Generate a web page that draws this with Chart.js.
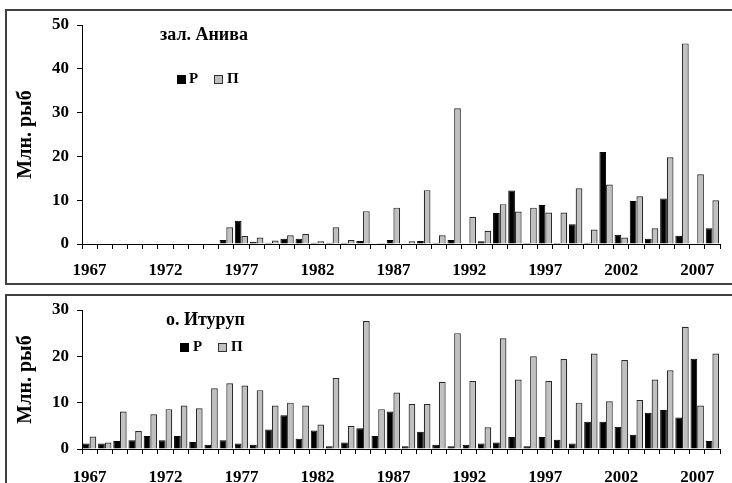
<!DOCTYPE html>
<html><head><meta charset="utf-8">
<script src="https://cdn.jsdelivr.net/npm/chart.js@4.4.0/dist/chart.umd.min.js"></script>
<style>
html,body{margin:0;padding:0;background:#fff;}
#wrap{position:relative;width:732px;height:483px;overflow:hidden;font-family:"Liberation Serif","Times New Roman",serif;font-weight:bold;color:#000;}
.box{position:absolute;border:2px solid #404040;box-sizing:border-box;}
canvas{position:absolute;left:0;}
.ttl{position:absolute;font-size:18px;line-height:18px;white-space:nowrap;}
.lt{position:absolute;font-size:15px;line-height:15px;white-space:nowrap;}
.sq{position:absolute;width:9px;height:9px;box-sizing:border-box;}
</style></head>
<body>
<div id="wrap">
  <div class="box" style="left:5px;top:9px;width:740px;height:276px;"></div>
  <div class="box" style="left:5px;top:294px;width:740px;height:200px;"></div>
  <canvas id="c1" width="732" height="290" style="top:0;"></canvas>
  <canvas id="c2" width="732" height="200" style="top:290px;"></canvas>
  <div class="ttl" style="left:160px;top:25px;">зал. Анива</div>
  <div class="sq" style="left:177px;top:75px;background:#000;"></div>
  <div class="lt" style="left:189px;top:71px;">Р</div>
  <div class="sq" style="left:214px;top:75px;background:#c0c0c0;border:1px solid #303030;"></div>
  <div class="lt" style="left:227px;top:71px;">П</div>
  <div class="ttl" style="left:166px;top:310px;">о. Итуруп</div>
  <div class="sq" style="left:180px;top:343px;background:#000;"></div>
  <div class="lt" style="left:193px;top:339px;">Р</div>
  <div class="sq" style="left:218px;top:343px;background:#c0c0c0;border:1px solid #303030;"></div>
  <div class="lt" style="left:231px;top:339px;">П</div>
</div>
<script>
const years = ['1967','1968','1969','1970','1971','1972','1973','1974','1975','1976',
  '1977','1978','1979','1980','1981','1982','1983','1984','1985','1986',
  '1987','1988','1989','1990','1991','1992','1993','1994','1995','1996',
  '1997','1998','1999','2000','2001','2002','2003','2004','2005','2006',
  '2007','2008'];
const xTickLabels = ['1967','1972','1977','1982','1987','1992','1997','2002','2007'];

// зал. Анива
const anivaR = [null,null,null,null,null,null,null,null,null,0.9,
  5.3,0.5,0.3,1.2,1.2,0.3,0.3,0.3,0.7,null,
  0.9,null,0.7,0.3,0.9,null,0.6,7.1,12.2,0.2,
  8.9,0.2,4.5,0.3,21.0,2.1,9.8,1.2,10.4,1.9,
  null,3.6];
const anivaP = [null,null,null,null,null,null,null,null,null,3.8,
  1.8,1.5,0.8,2.0,2.3,0.6,3.8,0.9,7.5,0.2,
  8.3,0.6,12.3,2.0,31.0,6.2,3.0,9.1,7.4,8.3,
  7.2,7.2,12.7,3.3,13.6,1.5,10.9,3.6,19.8,45.8,
  15.9,10.0];

// о. Итуруп
const iturupR = [1.2,1.2,1.7,1.9,2.8,1.9,2.8,1.5,0.9,1.9,
  1.2,0.9,4.2,7.3,2.2,4.0,0.6,1.4,4.5,2.8,
  8.1,0.6,3.7,0.9,0.6,0.9,1.2,1.4,2.6,0.6,
  2.6,2.0,1.2,5.9,5.9,4.8,3.1,7.8,8.4,6.8,
  19.5,1.7];
const iturupP = [2.7,1.4,8.1,3.9,7.5,8.6,9.4,8.8,13.1,14.2,
  13.7,12.7,9.4,10.0,9.4,5.3,15.3,5.0,27.6,8.6,
  12.2,9.7,9.7,14.5,25.0,14.7,4.7,23.9,15.0,20.0,
  14.7,19.4,10.0,20.6,10.3,19.2,10.6,15.0,17.0,26.4,
  9.4,20.6];

const FAM = '"Liberation Serif","Times New Roman",serif';

function makeChart(id, rData, pData, yMax, padTop, xH, xPad) {
  return new Chart(document.getElementById(id), {
    type: 'bar',
    data: {
      labels: years,
      datasets: [
        {label:'Р', data:rData, backgroundColor:'#000', borderColor:'#000', borderWidth:1,
         categoryPercentage:0.88, barPercentage:1},
        {label:'П', data:pData, backgroundColor:'#c0c0c0', borderColor:'#2a2a2a', borderWidth:1.2,
         categoryPercentage:0.88, barPercentage:1}
      ]
    },
    options: {
      responsive:false, animation:false, devicePixelRatio:1,
      layout:{padding:{top:padTop, right:12, left:0, bottom:0}},
      plugins:{legend:{display:false}, tooltip:{enabled:false}},
      scales:{
        x:{
          offset:true,
          grid:{offset:true, drawOnChartArea:false, drawTicks:true, tickLength:5, color:'#000', lineWidth:1},
          border:{display:true, color:'#000', width:1},
          ticks:{autoSkip:false, maxRotation:0, minRotation:0, padding:xPad, color:'#000',
            font:{family:FAM, size:17, weight:'bold'},
            callback:function(v){ const l = this.getLabelForValue(v); return xTickLabels.includes(l) ? l : ''; }},
          afterFit:(s)=>{ s.height = xH; }
        },
        y:{
          min:0, max:yMax,
          grid:{drawOnChartArea:false, drawTicks:true, tickLength:5, color:'#000', lineWidth:1},
          border:{display:true, color:'#000', width:1},
          ticks:{stepSize:10, padding:8, color:'#000', font:{family:FAM, size:17, weight:'bold'}},
          title:{display:true, text:'Млн. рыб', color:'#000', font:{family:FAM, size:20, weight:'bold'},
            padding:{top:14, bottom:0}},
          afterFit:(s)=>{ s.width = 82; }
        }
      }
    }
  });
}

makeChart('c1', anivaR, anivaP, 50, 25, 46, 11);
makeChart('c2', iturupR, iturupP, 30, 20, 41, 13);
</script>
</body></html>
